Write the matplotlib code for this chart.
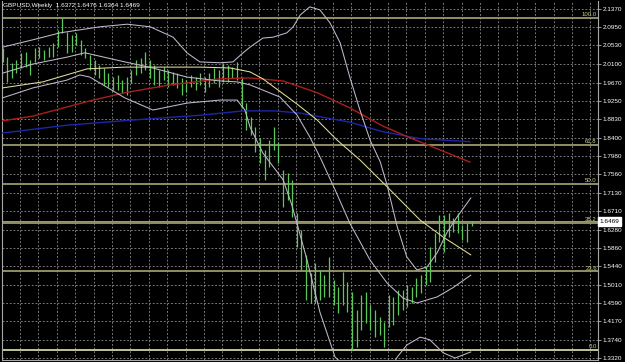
import matplotlib
matplotlib.use("Agg")
import matplotlib.pyplot as plt
import matplotlib.transforms as mtransforms
import numpy as np

symbol = "GBPUSD,Weekly"
last_ohlc = [1.6372, 1.6476, 1.6364, 1.6469]

bar_high = [2.047, 2.026, 2.013, 2.019, 2.036, 2.038, 2.019, 2.047, 2.049, 2.043,
            2.049, 2.059, 2.089, 2.116, 2.084, 2.077, 2.082, 2.066, 2.047, 2.031,
            2.019, 2.008, 2.001, 1.989, 1.980, 1.985, 1.973, 1.980, 1.996, 2.019,
            2.024, 2.038, 2.019, 2.008, 1.996, 2.003, 1.996, 1.992, 1.989, 1.978,
            1.973, 1.985, 1.980, 1.989, 1.980, 1.989, 2.001, 1.996, 2.013, 2.008,
            2.003, 2.015, 1.980, 1.920, 1.888, 1.865, 1.840, 1.812, 1.835, 1.865,
            1.830, 1.766, 1.759, 1.743, 1.667, 1.627, 1.570, 1.528, 1.551, 1.535,
            1.524, 1.565, 1.512, 1.496, 1.530, 1.507, 1.484, 1.443, 1.477, 1.484,
            1.454, 1.443, 1.427, 1.415, 1.477, 1.473, 1.489, 1.489, 1.500, 1.496,
            1.517, 1.524, 1.542, 1.588, 1.620, 1.662, 1.662, 1.667, 1.655, 1.667,
            1.639, 1.643, 1.6476]
bar_low = [2.015, 1.969, 1.978, 1.989, 2.001, 2.003, 1.985, 2.015, 2.024, 2.019,
           2.026, 2.026, 2.049, 2.082, 2.036, 2.038, 2.054, 2.031, 2.024, 1.996,
           1.985, 1.978, 1.962, 1.957, 1.950, 1.950, 1.943, 1.939, 1.966, 1.985,
           1.989, 1.996, 1.978, 1.962, 1.957, 1.973, 1.957, 1.962, 1.955, 1.939,
           1.946, 1.957, 1.950, 1.962, 1.946, 1.957, 1.966, 1.957, 1.969, 1.969,
           1.978, 1.973, 1.909, 1.858, 1.846, 1.807, 1.782, 1.743, 1.773, 1.812,
           1.782, 1.680, 1.697, 1.657, 1.588, 1.535, 1.466, 1.459, 1.459, 1.466,
           1.473, 1.473, 1.454, 1.436, 1.454, 1.438, 1.351, 1.357, 1.397, 1.413,
           1.397, 1.381, 1.385, 1.357, 1.404, 1.408, 1.431, 1.443, 1.450, 1.459,
           1.473, 1.482, 1.500, 1.507, 1.554, 1.600, 1.577, 1.611, 1.623, 1.620,
           1.604, 1.600, 1.6364]

# Bollinger bands (sampled at bar index)
bb_up_x = [0, 6.6, 12.5, 21.2, 27.1, 32.1, 37.1, 40.1, 42.9, 47.3, 50.1, 52.3, 53.8,
           56.6, 58.8, 61.8, 63.2, 64.7, 66.8, 69.0, 71.2, 73.4, 75.5, 77.7, 79.9,
           82.1, 83.6, 85.8, 87.9, 90.1, 92.3, 94.5, 96.6, 98.8, 101.8]
bb_up_y = [2.049, 2.066, 2.082, 2.096, 2.102, 2.096, 2.072, 2.036, 2.015, 2.013, 2.015,
           2.036, 2.049, 2.070, 2.072, 2.082, 2.096, 2.123, 2.142, 2.135, 2.105, 2.059,
           1.980, 1.904, 1.835, 1.785, 1.731, 1.635, 1.565, 1.535, 1.542, 1.575,
           1.621, 1.657, 1.701]
bb_mid_x = [0, 6.6, 14.0, 17.9, 26.6, 32.7, 40.1, 47.3, 51.0, 53.8, 56.6, 60.3, 64.0,
            66.8, 69.0, 72.3, 75.5, 79.9, 83.6, 87.1, 90.1, 94.5, 97.9, 101.8]
bb_mid_y = [1.989, 2.010, 2.026, 2.036, 2.015, 2.001, 1.980, 1.971, 1.969, 1.962,
            1.950, 1.934, 1.893, 1.842, 1.796, 1.720, 1.643, 1.558, 1.505, 1.470,
            1.459, 1.473, 1.494, 1.523]
bb_low_x = [0, 6.6, 14.0, 16.8, 19.0, 26.6, 32.7, 40.1, 47.3, 51.0, 52.7, 53.8, 56.6,
            61.0, 62.9, 64.7, 66.2, 69.0, 72.3, 76.6, 79.9, 83.2, 85.8, 87.9, 90.8,
            92.9, 95.8, 98.4, 101.8]
bb_low_y = [1.932, 1.955, 1.973, 1.985, 1.980, 1.932, 1.904, 1.920, 1.927, 1.927,
            1.904, 1.865, 1.805, 1.743, 1.685, 1.616, 1.558, 1.438, 1.334, 1.293,
            1.279, 1.286, 1.334, 1.362, 1.380, 1.374, 1.344, 1.332, 1.346]

# Moving averages
ma_yel_x = [0, 8.8, 18.4, 26.6, 42.9, 49.5, 53.8, 56.6, 64.0, 68.4, 72.7, 77.7, 83.6,
            90.8, 95.8, 101.8]
ma_yel_y = [1.955, 1.969, 1.999, 2.003, 2.003, 2.001, 1.992, 1.976, 1.918, 1.881,
            1.835, 1.789, 1.727, 1.650, 1.611, 1.570]
ma_red_x = [0, 6.6, 14.0, 19.0, 26.6, 36.4, 47.3, 53.8, 61.0, 68.4, 75.5, 82.7, 87.9,
            95.1, 101.6]
ma_red_y = [1.879, 1.890, 1.911, 1.925, 1.944, 1.962, 1.976, 1.978, 1.971, 1.944,
            1.909, 1.867, 1.843, 1.812, 1.784]
ma_blue_x = [0, 14.0, 28.4, 42.9, 52.3, 59.2, 64.7, 75.5, 82.7, 90.8, 101.6]
ma_blue_y = [1.851, 1.869, 1.881, 1.892, 1.902, 1.902, 1.897, 1.876, 1.854, 1.838, 1.831]

# Fibonacci retracement
fib_high = 2.117
fib_low = 1.351
fib_levels = [0.0, 23.6, 38.2, 50.0, 61.8, 100.0]

ytick_labels = ["2.1370", "2.0950", "2.0530", "2.0100", "1.9670", "1.9250", "1.8830",
                "1.8400", "1.7980", "1.7560", "1.7130", "1.6710", "1.6280", "1.5860",
                "1.5440", "1.5010", "1.4590", "1.4170", "1.3740", "1.3320"]

W, H = 625, 362
fig = plt.figure(figsize=(W / 100, H / 100), dpi=100, facecolor="black")
ax = fig.add_axes([2 / W, 2 / H, 596 / W, 359 / H])
ax.set_facecolor("black")
ax.set_xlim(-0.11, 129.46)
ax.set_ylim(1.3274, 2.1555)

grid_kw = dict(color="#8c8c8c", lw=0.6, linestyle=(0, (2.2, 2.2)))
ax.set_yticks([float(t) for t in ytick_labels])
ax.set_yticklabels(ytick_labels)
ax.set_xticks(np.arange(3.8, 129, 4))
ax.grid(True, **grid_kw)
ax.set_axisbelow(True)

ax.yaxis.tick_right()
ax.tick_params(axis="y", colors="white", labelsize=4.6, length=2, width=0.6, pad=1.5)
ax.tick_params(axis="y", color="#b0b0b0")
ax.tick_params(axis="x", length=0, labelbottom=False)
for lab in ax.get_yticklabels():
    lab.set_fontfamily("Liberation Sans")
for s in ["left", "bottom", "right"]:
    ax.spines[s].set_color("#a8a8a8")
    ax.spines[s].set_linewidth(0.8)
ax.spines["top"].set_visible(False)

# fib levels
span = fib_high - fib_low
for lv in fib_levels:
    price = fib_low + span * lv / 100.0
    col = "#d2d2a4" if lv == 0.0 else "#9a9a6a"
    ax.axhline(price, color=col, lw=1.3, zorder=2)
    ax.text(129.2, price + 0.002, f"{lv:.1f}", color="#d0d080", fontsize=4.3,
            ha="right", va="bottom", family="Liberation Sans", zorder=6)

# bid line
ax.axhline(last_ohlc[3], color="#9a9a9a", lw=0.7, zorder=2)

# bars
idx = np.arange(len(bar_high))
ax.vlines(idx, bar_low, bar_high, color="#5cc85c", lw=0.9, zorder=3)

# indicators
ax.plot(ma_blue_x, ma_blue_y, color="#1c26a8", lw=1.0, zorder=4)
ax.plot(ma_red_x, ma_red_y, color="#a8201c", lw=1.0, zorder=4)
ax.plot(ma_yel_x, ma_yel_y, color="#e0e094", lw=0.75, zorder=4)
for xs, ys in [(bb_up_x, bb_up_y), (bb_mid_x, bb_mid_y), (bb_low_x, bb_low_y)]:
    ax.plot(xs, ys, color="#c2b8cc", lw=0.75, zorder=4)

# price label box
trans = mtransforms.blended_transform_factory(ax.transAxes, ax.transData)
ax.text(1.0 + 1.5 / 596, last_ohlc[3], f"{last_ohlc[3]:.4f}", transform=trans,
        ha="left", va="center", fontsize=4.6, color="black", family="Liberation Sans",
        bbox=dict(boxstyle="square,pad=0.25", fc="white", ec="white"), zorder=10,
        clip_on=False)

# header
fig.text(3 / W, 1 - 6 / H,
         f"{symbol}  {last_ohlc[0]:.4f} {last_ohlc[1]:.4f} {last_ohlc[2]:.4f} {last_ohlc[3]:.4f}",
         color="white", fontsize=4.6, family="Liberation Sans", ha="left", va="center")

fig.savefig("out.png", dpi=100, facecolor="black")
